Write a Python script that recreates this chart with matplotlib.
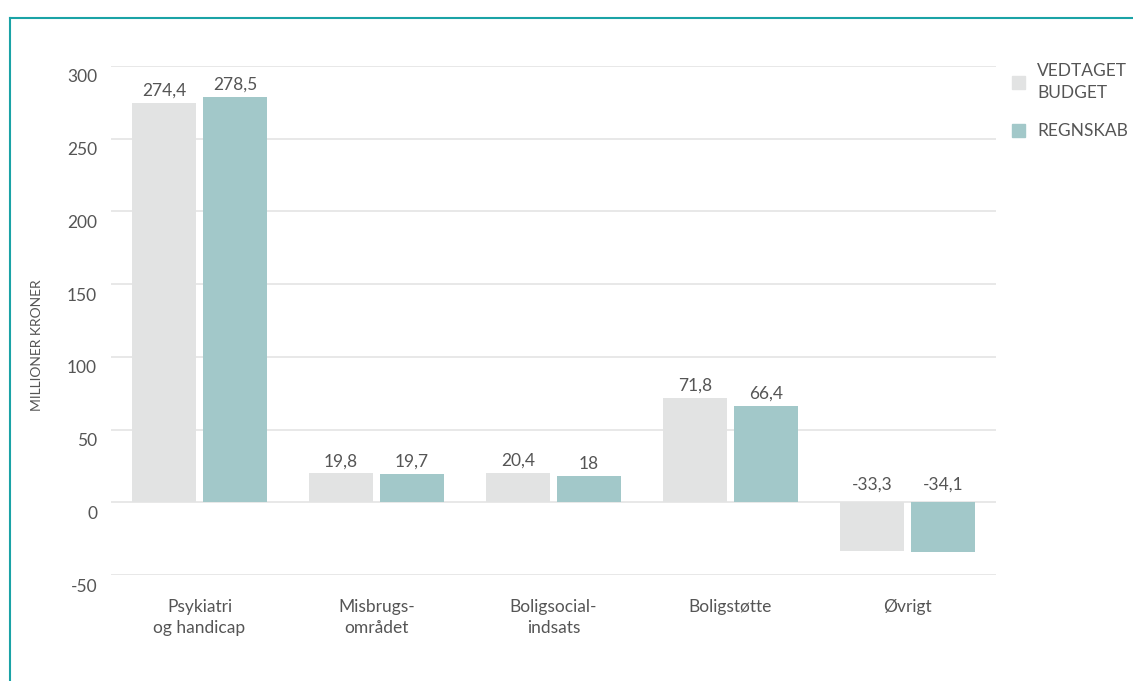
import matplotlib
matplotlib.use('Agg')
import matplotlib.pyplot as plt
import matplotlib.transforms as mtransforms
import numpy as np
from matplotlib.lines import Line2D
from matplotlib.patches import Rectangle

plt.rcParams['font.family'] = ['Lato', 'DejaVu Sans']

# data
categories = ['Psykiatri\nog handicap', 'Misbrugs-\nområdet', 'Boligsocial-\nindsats', 'Boligstøtte', 'Øvrigt']
budget = [274.4, 19.8, 20.4, 71.8, -33.3]
regnskab = [278.5, 19.7, 18, 66.4, -34.1]
series_names = ['VEDTAGET\nBUDGET', 'REGNSKAB']
yticks = [-50, 0, 50, 100, 150, 200, 250, 300]

c_budget = '#e2e3e3'
c_regn = '#a2c8c9'
c_text = '#555555'
c_grid = '#e6e6e6'
c_frame = '#1aa3a6'

fig = plt.figure(figsize=(11.33, 6.81), dpi=100)
ax = fig.add_axes([111/1133, 1 - 575/681, 885/1133, 509/681])

x = np.arange(len(categories))
w = 0.362
off = 0.2

for yv in yticks:
    ax.axhline(yv, color=c_grid, lw=1.3, zorder=0)

b1 = ax.bar(x - off, budget, w, color=c_budget, zorder=2)
b2 = ax.bar(x + off, regnskab, w, color=c_regn, zorder=2)

def fmt(v):
    s = ('%.1f' % v).replace('.', ',')
    if s.endswith(',0'):
        s = s[:-2]
    return s

for xs, vals in [(x - off, budget), (x + off, regnskab)]:
    for xi, v in zip(xs, vals):
        if v >= 0:
            ax.annotate(fmt(v), (xi, v), xytext=(0, 3), textcoords='offset points',
                        ha='center', va='bottom', fontsize=12.5, color=c_text, clip_on=False)
        else:
            ax.annotate(fmt(v), (xi, 0), xytext=(0, 7), textcoords='offset points',
                        ha='center', va='bottom', fontsize=12.5, color=c_text, clip_on=False)

ax.set_xlim(-0.5, len(categories) - 0.5)
ax.set_ylim(-50, 300)
ax.set_yticks(yticks)
ax.set_yticklabels([str(t) for t in yticks], fontsize=12.5, color=c_text)
ax.set_xticks(x)
ax.set_xticklabels(categories, fontsize=12.5, color=c_text, linespacing=1.45)
ax.tick_params(length=0)
ax.tick_params(axis='y', pad=10)
ax.tick_params(axis='x', pad=17)
shift = mtransforms.ScaledTranslation(0, -10/100, fig.dpi_scale_trans)
for lab in ax.get_yticklabels():
    lab.set_transform(lab.get_transform() + shift)
for s in ax.spines.values():
    s.set_visible(False)

fig.text(37/1133, 1 - 345/681, 'MILLIONER KRONER', rotation=90, ha='center', va='center',
         fontsize=10, color=c_text)

# legend
handles = [Rectangle((0, 0), 1, 1, color=c_budget), Rectangle((0, 0), 1, 1, color=c_regn)]
leg = fig.legend(handles, series_names, loc='upper left', bbox_to_anchor=(1012/1133, 1 - 63/681),
                 frameon=False, fontsize=12.5, labelcolor=c_text, handlelength=0.75, handleheight=0.75,
                 handletextpad=0.7, labelspacing=1.3, borderaxespad=0, borderpad=0)
for t in leg.get_texts():
    t.set_linespacing(1.45)

# frame
fig.add_artist(Line2D([10.5/1133, 10.5/1133], [0, 1 - 18/681], color=c_frame, lw=1.5))
fig.add_artist(Line2D([10/1133, 1], [1 - 18/681, 1 - 18/681], color=c_frame, lw=1.5))

fig.savefig('out.png', dpi=100)
